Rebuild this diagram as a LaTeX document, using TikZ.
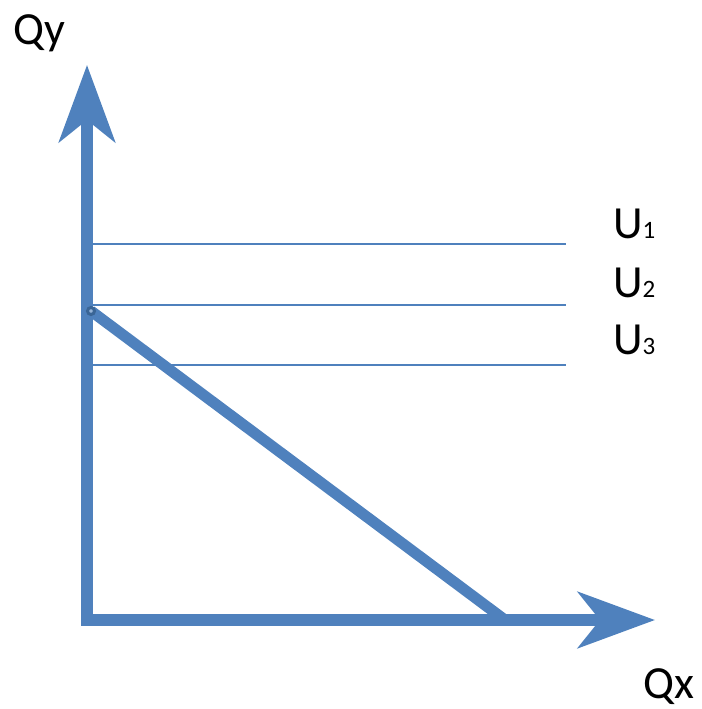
\documentclass[tikz,border=0pt]{standalone}
\usepackage{fontspec}
\setmainfont{Carlito}
\usetikzlibrary{arrows.meta}
\definecolor{officeblue}{HTML}{4F81BD}
\definecolor{darkblue}{HTML}{3A6596}

\begin{document}
\begin{tikzpicture}[x=1pt, y=-1pt,
    axis/.style={draw=officeblue, line width=11.5pt, line join=miter,
                 -{Stealth[length=77pt, width=56pt, inset=22pt]}},
    budget/.style={draw=officeblue, line width=11pt},
    uline/.style={draw=officeblue, line width=1.5pt},
    lbl/.style={anchor=base west, inner sep=0pt, font=\fontsize{46}{50}\selectfont}
]
\useasboundingbox (0,0) rectangle (701,709);
% axes
\coordinate (O)    at (87,620);
\coordinate (ytip) at (87,65);
\coordinate (xtip) at (655,620);
% budget line end points
\coordinate (B) at (91,311);
\coordinate (A) at (505,620);
% indifference levels
\coordinate (U1s) at (92,244);  \coordinate (U1e) at (566,244);
\coordinate (U2s) at (92,305);  \coordinate (U2e) at (566,305);
\coordinate (U3s) at (92,365);  \coordinate (U3e) at (566,365);
\draw[uline] (U1s) -- (U1e);
\draw[uline] (U2s) -- (U2e);
\draw[uline] (U3s) -- (U3e);
\draw[budget] (B) -- (A);
\draw[axis] (O) -- (ytip);
\draw[axis] ([xshift=-5.75pt]O) -- (xtip);
\draw[draw=darkblue, line width=3pt, fill=officeblue!60] (B) circle (3.5pt);
% labels
\node[lbl] (Qy) at (13,45)  {Qy};
\node[lbl] (Qx) at (643,698) {Qx};
\node[lbl] (L1) at (613,238) {U{\fontsize{25}{28}\selectfont 1}};
\node[lbl] (L2) at (613,297) {U{\fontsize{25}{28}\selectfont 2}};
\node[lbl] (L3) at (613,354) {U{\fontsize{25}{28}\selectfont 3}};
\end{tikzpicture}
\end{document}
